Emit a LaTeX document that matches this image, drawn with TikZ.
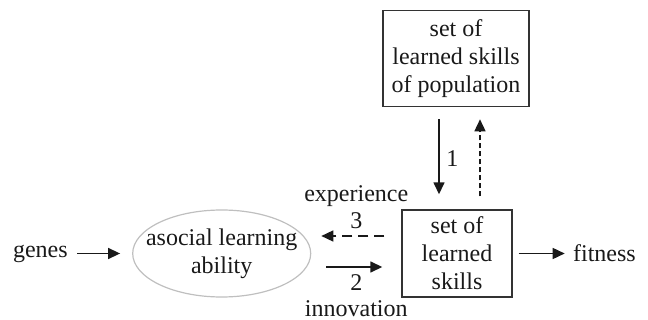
\documentclass[tikz,border=0pt]{standalone}
\usepackage{fontspec}
\setmainfont{Liberation Serif}
\usepackage{tikz}
\usetikzlibrary{shapes,arrows,arrows.meta,positioning}

\begin{document}
\begin{tikzpicture}[x=0.5pt, y=-0.5pt,
          every node/.style={font=\fontsize{12}{14}\selectfont, text=black!90},
          box/.style={draw=black!80, line width=0.7pt, align=center, inner sep=0pt},
          plain/.style={inner sep=0pt},
          to/.style={->, >={Triangle[length=6pt,width=5.5pt]}, line width=0.75pt, black!90},
		]
			\useasboundingbox (0,0) rectangle (648,320);
			\draw node[box, minimum width=55pt, minimum height=43.5pt] at (457,253.5)
                (skills) {set of\\learned\\skills};
			\draw node[box, minimum width=73pt, minimum height=48pt, above=51pt of skills, xshift=-0.5pt]
                (pop) {set of\\learned skills\\of population};
			\draw node[ellipse, draw=black!25, line width=0.6pt, inner xsep=-8pt, inner ysep=-2pt,
                minimum width=89pt, minimum height=43.5pt, align=center, left=45pt of skills]
                (ell) {asocial learning\\ability};
			\draw node[plain, left=32pt of ell] (genes) {genes};
			\draw node[plain, right=30pt of skills] (fitness) {fitness};
            \draw[to, shorten <=4.5pt, shorten >=6pt] (genes) -- (ell);
            \draw[to, shorten <=3pt, shorten >=4pt] (skills) -- (fitness);
            \draw[to, shorten <=6pt, shorten >=7.5pt] ([xshift=-8.5pt]pop.south)
                -- ([xshift=-8.5pt]pop.south |- skills.north) node[midway, right] (one) {1};
            \draw[to, dash pattern=on 2.5pt off 1.5pt, shorten <=6.5pt, shorten >=6pt]
                ([xshift=12pt]pop.south |- skills.north) -- ([xshift=12pt]pop.south);
            \draw[to, dash pattern=on 5pt off 3pt, shorten <=8.5pt, shorten >=5pt]
                ([yshift=8.75pt]skills.west) -- ([yshift=8.75pt]skills.west -| ell.east)
                node[midway, above] (three) {3};
            \draw node[plain, above=-1pt of three] (exp) {experience};
            \draw[to, shorten <=7.5pt, shorten >=9.5pt] ([yshift=-6.75pt]skills.west -| ell.east)
                -- ([yshift=-6.75pt]skills.west) node[midway, below] (two) {2};
            \draw node[plain, below=1pt of two] (inno) {innovation};

		 \end{tikzpicture}
\end{document}
